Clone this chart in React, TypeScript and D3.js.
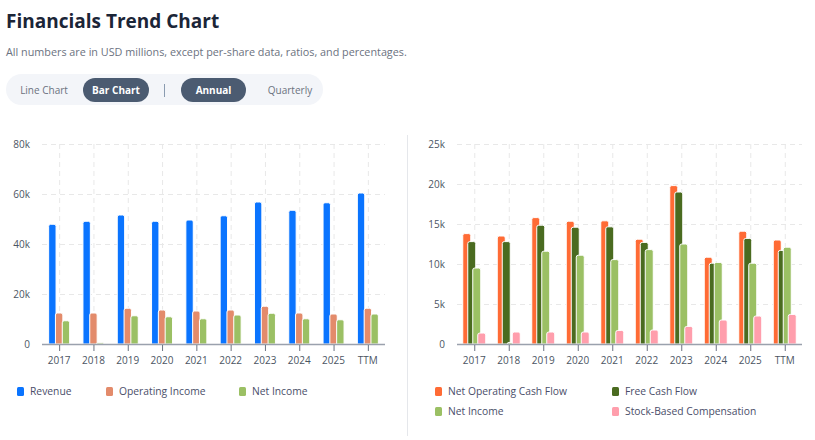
import { useEffect, useRef } from "react";
import * as d3 from "d3";

const years = ["2017", "2018", "2019", "2020", "2021", "2022", "2023", "2024", "2025", "TTM"];

// left chart (USD millions)
const revenue = [47900, 49100, 51600, 49100, 49600, 51300, 56800, 53500, 56500, 60400];
const operatingIncome = [12400, 12400, 14300, 13600, 13200, 13600, 15100, 12400, 12000, 14300];
const netIncomeLeft = [9300, 500, 11300, 10900, 10100, 11600, 12300, 10100, 9700, 12000];
const leftTicks = [0, 20000, 40000, 60000, 80000];

// right chart (USD millions)
const netOperatingCashFlow = [13800, 13500, 15800, 15350, 15400, 13100, 19800, 10850, 14100, 13000];
const freeCashFlow = [12800, 12800, 14850, 14600, 14650, 12700, 19000, 10100, 13200, 11700];
const netIncomeRight = [9500, 200, 11600, 11100, 10550, 11800, 12500, 10200, 10100, 12100];
const stockBasedComp = [1370, 1500, 1500, 1500, 1700, 1750, 2200, 3000, 3500, 3700];
const rightTicks = [0, 5000, 10000, 15000, 20000, 25000];

const FONT = "'Open Sans', 'Noto Sans', sans-serif";

interface Series {
  name: string;
  color: string;
  values: number[];
}

const leftSeries: Series[] = [
  { name: "Revenue", color: "#0a74ff", values: revenue },
  { name: "Operating Income", color: "#e38b6b", values: operatingIncome },
  { name: "Net Income", color: "#9bc064", values: netIncomeLeft },
];

const rightSeries: Series[] = [
  { name: "Net Operating Cash Flow", color: "#ff6b35", values: netOperatingCashFlow },
  { name: "Free Cash Flow", color: "#4a6b20", values: freeCashFlow },
  { name: "Net Income", color: "#9bc064", values: netIncomeRight },
  { name: "Stock-Based Compensation", color: "#ff9eac", values: stockBasedComp },
];

// path for a bar with rounded top corners
function topRoundedBar(x: number, y: number, w: number, h: number, r: number) {
  const rr = Math.min(r, h, w / 2);
  return `M${x},${y + h}V${y + rr}Q${x},${y} ${x + rr},${y}H${x + w - rr}Q${x + w},${y} ${x + w},${y + rr}V${y + h}Z`;
}

function drawChart(
  svg: d3.Selection<SVGSVGElement, unknown, null, undefined>,
  series: Series[],
  ticks: number[],
  x0: number,
  x1: number,
  labelX: number,
  barW: number,
  step: number
) {
  const top = 144;
  const bottom = 344;
  const g = svg.append("g");

  const x = d3.scaleBand<string>().domain(years).range([x0, x1]).padding(0);
  const y = d3.scaleLinear().domain([0, ticks[ticks.length - 1]]).range([bottom, top]);
  const cx = (d: string) => (x(d) ?? 0) + x.bandwidth() / 2;

  // grid
  g.selectAll(".hgrid")
    .data(ticks.slice(1))
    .enter()
    .append("line")
    .attr("x1", x0)
    .attr("x2", x1)
    .attr("y1", (d) => y(d) + 0.5)
    .attr("y2", (d) => y(d) + 0.5)
    .style("stroke", "#e8e8e8")
    .style("stroke-dasharray", "5,4");

  g.selectAll(".vgrid")
    .data(years)
    .enter()
    .append("line")
    .attr("x1", (d) => cx(d) + 0.5)
    .attr("x2", (d) => cx(d) + 0.5)
    .attr("y1", top)
    .attr("y2", bottom)
    .style("stroke", "#e8e8e8")
    .style("stroke-dasharray", "5,4");

  // y labels
  g.selectAll(".ylab")
    .data(ticks)
    .enter()
    .append("text")
    .attr("x", labelX)
    .attr("y", (d) => y(d))
    .attr("dy", "0.35em")
    .style("text-anchor", "end")
    .style("font-size", "10px")
    .style("font-family", FONT)
    .style("fill", "#4b5563")
    .text((d) => (d === 0 ? "0" : `${d / 1000}k`));

  // bars
  const n = series.length;
  series.forEach((s, i) => {
    g.selectAll(`.bar${i}`)
      .data(years)
      .enter()
      .append("path")
      .attr("d", (d, j) => {
        const bx = cx(d) + (i - (n - 1) / 2) * step - barW / 2;
        const by = y(s.values[j]);
        return topRoundedBar(bx, by, barW, bottom - by, 2);
      })
      .style("fill", s.color)
      .style("stroke", "#ffffff")
      .style("stroke-width", "1px");
  });

  // x axis
  g.append("line")
    .attr("x1", x0)
    .attr("x2", x1)
    .attr("y1", bottom + 0.5)
    .attr("y2", bottom + 0.5)
    .style("stroke", "#9aa1ad")
    .style("stroke-width", "1.5px");

  g.selectAll(".xtick")
    .data(years)
    .enter()
    .append("line")
    .attr("x1", (d) => cx(d) + 0.5)
    .attr("x2", (d) => cx(d) + 0.5)
    .attr("y1", bottom + 1)
    .attr("y2", bottom + 7)
    .style("stroke", "#6b7280")
    .style("stroke-width", "1px");

  g.selectAll(".xlab")
    .data(years)
    .enter()
    .append("text")
    .attr("x", (d) => cx(d))
    .attr("y", 364)
    .style("text-anchor", "middle")
    .style("font-size", "10px")
    .style("font-family", FONT)
    .style("fill", "#4b5563")
    .text((d) => d);
}

function drawLegend(
  svg: d3.Selection<SVGSVGElement, unknown, null, undefined>,
  series: Series[],
  positions: [number, number][]
) {
  const g = svg.append("g");
  series.forEach((s, i) => {
    const [lx, ly] = positions[i];
    g.append("rect")
      .attr("x", lx)
      .attr("y", ly - 4)
      .attr("width", 7)
      .attr("height", 9)
      .attr("rx", 1.5)
      .style("fill", s.color);
    g.append("text")
      .attr("x", lx + 13)
      .attr("y", ly)
      .attr("dy", "0.35em")
      .style("font-size", "10.3px")
      .style("font-family", FONT)
      .style("fill", "#4a4e69")
      .text(s.name);
  });
}

export default function App() {
  const svgRef = useRef<SVGSVGElement>(null);

  useEffect(() => {
    if (!svgRef.current) return;
    const svg = d3.select(svgRef.current);
    svg.selectAll("*").remove();

    svg.append("rect").attr("width", 815).attr("height", 440).style("fill", "#ffffff");

    // header
    svg.append("text")
      .attr("x", 6)
      .attr("y", 28)
      .style("font-size", "19px")
      .style("font-weight", "700")
      .style("font-family", FONT)
      .style("fill", "#1b2537")
      .text("Financials Trend Chart");

    svg.append("text")
      .attr("x", 6)
      .attr("y", 56)
      .style("font-size", "10.8px")
      .style("font-family", FONT)
      .style("fill", "#6b7280")
      .text("All numbers are in USD millions, except per-share data, ratios, and percentages.");

    // toggle bar
    const tg = svg.append("g");
    tg.append("rect").attr("x", 6).attr("y", 74).attr("width", 317).attr("height", 31).attr("rx", 15.5).style("fill", "#f3f5f9");
    tg.append("rect").attr("x", 83).attr("y", 78).attr("width", 66).attr("height", 24).attr("rx", 12).style("fill", "#4b5b71");
    tg.append("rect").attr("x", 181).attr("y", 78).attr("width", 65).attr("height", 24).attr("rx", 12).style("fill", "#4b5b71");
    tg.append("line").attr("x1", 164.5).attr("x2", 164.5).attr("y1", 84).attr("y2", 97).style("stroke", "#8a9bb0");
    const toggles: [string, number, boolean][] = [
      ["Line Chart", 44, false],
      ["Bar Chart", 116, true],
      ["Annual", 213.5, true],
      ["Quarterly", 290, false],
    ];
    toggles.forEach(([label, tx, active]) => {
      tg.append("text")
        .attr("x", tx)
        .attr("y", 90)
        .attr("dy", "0.35em")
        .style("text-anchor", "middle")
        .style("font-size", "10px")
        .style("font-weight", active ? "700" : "400")
        .style("font-family", FONT)
        .style("fill", active ? "#ffffff" : "#6b7280")
        .text(label);
    });

    // separator
    svg.append("line")
      .attr("x1", 407.5)
      .attr("x2", 407.5)
      .attr("y1", 135)
      .attr("y2", 436)
      .style("stroke", "#e5e7eb");

    drawChart(svg, leftSeries, leftTicks, 42, 385, 30, 7.4, 6.8);
    drawChart(svg, rightSeries, rightTicks, 457, 802, 445, 8, 5);

    drawLegend(svg, leftSeries, [[17, 391], [106, 391], [239, 391]]);
    drawLegend(svg, rightSeries, [[435, 391], [612, 391], [435, 411], [612, 411]]);
  }, []);

  return (
    <svg
      ref={svgRef}
      width={815}
      height={440}
      style={{ position: "absolute", left: 0, top: 0 }}
    ></svg>
  );
}
